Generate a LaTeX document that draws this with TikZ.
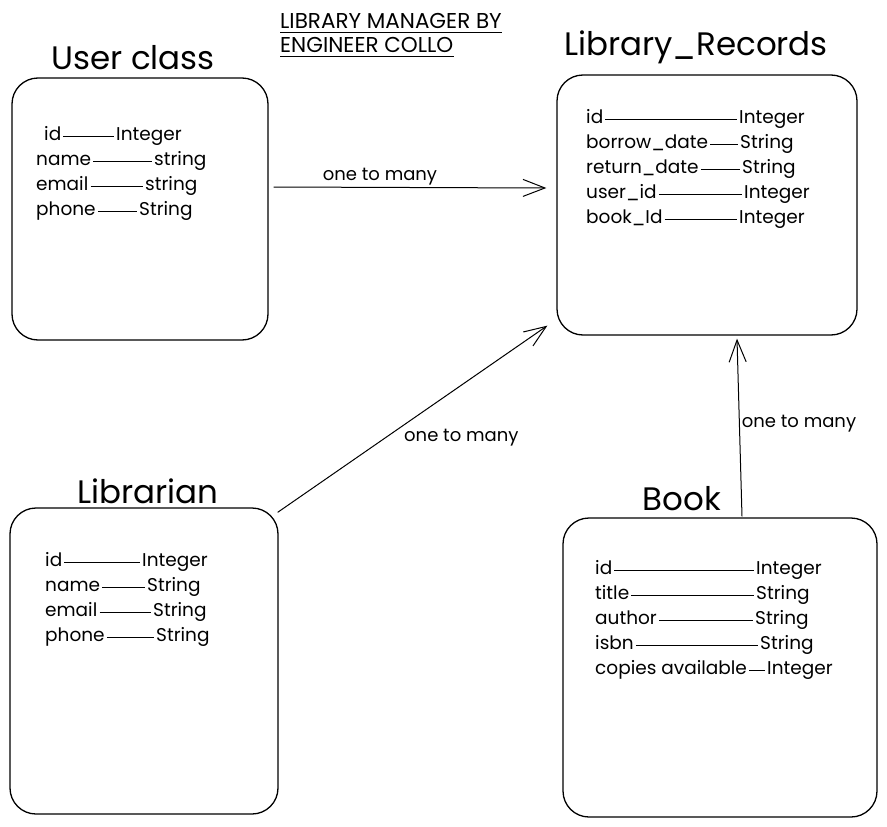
\documentclass[tikz,border=0pt]{standalone}
\usepackage{fontspec}
\setmainfont{Poppins}
\usetikzlibrary{positioning}
\usetikzlibrary{graphs}
\usetikzlibrary{arrows.meta}
\tikzset{tbl/.style={draw,line width=1.3pt,rounded corners=26pt,inner sep=0pt}}
\tikzset{ttl/.style={anchor=base,inner sep=0pt,font=\fontsize{32.5}{36}\selectfont}}
\tikzset{fld/.style={anchor=west,inner ysep=0pt,inner xsep=2pt,text height=12pt,text depth=3pt,font=\fontsize{18.5}{22}\selectfont}}
\tikzset{lbl/.style={inner sep=2pt,font=\fontsize{18}{21}\selectfont}}
\tikzset{rel/.style={line width=1pt,-{Straight Barb[length=22pt,width=17pt,line width=1pt]}}}

\begin{document}
\begin{tikzpicture}[x=1pt,y=-1pt]
            \useasboundingbox (0,0) rectangle (887,827);

            % heading
            \node (h1) [anchor=base west,inner sep=0pt,font=\fontsize{21.5}{24}\selectfont] at (280,28) {LIBRARY MANAGER BY};
            \node (h2) [anchor=base west,inner sep=0pt,font=\fontsize{21.5}{24}\selectfont] at (280,52) {ENGINEER COLLO};
            \draw [line width=1.2pt] ([yshift=-4pt]h1.south west) -- ([yshift=-4pt]h1.south east);
            \draw [line width=1.2pt] ([yshift=-4pt]h2.south west) -- ([yshift=-4pt]h2.south east);

            % tables
            \node (uc)  [tbl,minimum width=256pt,minimum height=262pt] at (140,209)   {};
            \node (rec) [tbl,minimum width=300pt,minimum height=260pt] at (707,205)   {};
            \node (lb)  [tbl,minimum width=268pt,minimum height=306pt] at (144,661)   {};
            \node (bk)  [tbl,minimum width=314pt,minimum height=299pt] at (720,667.5) {};

            \node (uct)  [ttl] at (133,69)  {User class};
            \node (rect) [ttl] at (696,56)  {Library\_Records};
            \node (lbt)  [ttl] at (148,503) {Librarian};
            \node (bkt)  [ttl] at (682,510) {Book};

            % User class
            \node (u1)  [fld] at (42,136)  {id};
            \node (u1t) [fld] at (114,136) {Integer};
            \node (u2)  [fld] at (34,161)  {name};
            \node (u2t) [fld] at (152,161) {string};
            \node (u3)  [fld] at (34,186)  {email};
            \node (u3t) [fld] at (143,186) {string};
            \node (u4)  [fld] at (34,211)  {phone};
            \node (u4t) [fld] at (137,211) {String};

            % Library_Records
            \node (r1)  [fld] at (584,119) {id};
            \node (r1t) [fld] at (737,119) {Integer};
            \node (r2)  [fld] at (584,144) {borrow\_date};
            \node (r2t) [fld] at (738,144) {String};
            \node (r3)  [fld] at (584,169) {return\_date};
            \node (r3t) [fld] at (740,169) {String};
            \node (r4)  [fld] at (584,194) {user\_id};
            \node (r4t) [fld] at (742,194) {Integer};
            \node (r5)  [fld] at (584,219) {book\_Id};
            \node (r5t) [fld] at (737,219) {Integer};

            % Librarian
            \node (l1)  [fld] at (43,562)  {id};
            \node (l1t) [fld] at (140,562) {Integer};
            \node (l2)  [fld] at (43,587)  {name};
            \node (l2t) [fld] at (145,587) {String};
            \node (l3)  [fld] at (43,612)  {email};
            \node (l3t) [fld] at (151,612) {String};
            \node (l4)  [fld] at (43,637)  {phone};
            \node (l4t) [fld] at (154,637) {String};

            % Book
            \node (b1)  [fld] at (593,570) {id};
            \node (b1t) [fld] at (754,570) {Integer};
            \node (b2)  [fld] at (593,595) {title};
            \node (b2t) [fld] at (754,595) {String};
            \node (b3)  [fld] at (593,620) {author};
            \node (b3t) [fld] at (753,620) {String};
            \node (b4)  [fld] at (593,645) {isbn};
            \node (b4t) [fld] at (758,645) {String};
            \node (b5)  [fld] at (593,670) {copies available};
            \node (b5t) [fld] at (765,670) {Integer};

            \graph[edges={line width=0.9pt}]{
                (u1) -- (u1t); (u2) -- (u2t); (u3) -- (u3t); (u4) -- (u4t);
                (r1) -- (r1t); (r2) -- (r2t); (r3) -- (r3t); (r4) -- (r4t); (r5) -- (r5t);
                (l1) -- (l1t); (l2) -- (l2t); (l3) -- (l3t); (l4) -- (l4t);
                (b1) -- (b1t); (b2) -- (b2t); (b3) -- (b3t); (b4) -- (b4t); (b5) -- (b5t);
            };

            % relations
            \draw [rel] ([xshift=5pt,yshift=22pt]uc.east) -- node (m1) [lbl,above,pos=0.39] {one to many} ([xshift=-10pt,yshift=17pt]rec.west);
            \draw [rel] ([xshift=-1pt,yshift=-5pt]lb.north east) -- node (m2) [lbl,anchor=north west,pos=0.46] {one to many} ([xshift=-9pt,yshift=10pt]rec.south west);
            \draw [rel] ([xshift=22pt,yshift=1pt]bk.north) -- node (m3) [lbl,anchor=west,pos=0.52] {one to many} ([xshift=30pt,yshift=-3pt]rec.south);
        \end{tikzpicture}
\end{document}
